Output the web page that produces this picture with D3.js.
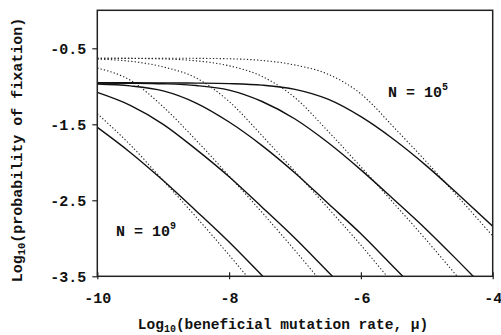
<!DOCTYPE html>
<html>
<head>
<meta charset="utf-8">
<script src="https://cdn.jsdelivr.net/npm/d3@7"></script>
<style>
  body { margin: 0; background: #fff; }
  svg text { font-family: "Liberation Mono", "Courier New", monospace; font-weight: bold; fill: #111; }
</style>
</head>
<body>
<svg id="chart" width="501" height="335"></svg>
<script>
// log10 of the beneficial mutation rate at which each curve is sampled
const logMu = [-10, -9.5, -9, -8.5, -8, -7.5, -7, -6.5, -6, -5.5, -5, -4.5, -4];

// log10 probability of fixation, solid curves (null = below the plotted range)
const solidN5 = [-0.953, -0.954, -0.955, -0.958, -0.965, -0.985, -1.04, -1.17, -1.40, -1.70, -2.05, -2.44, -2.84];
const solidN6 = [-0.956, -0.959, -0.967, -0.99, -1.05, -1.20, -1.43, -1.74, -2.10, -2.49, -2.89, -3.32, -3.76];
const solidN7 = [-0.97, -0.995, -1.06, -1.22, -1.47, -1.78, -2.14, -2.54, -2.94, -3.38, -3.82, null, null];
const solidN8 = [-1.08, -1.25, -1.50, -1.83, -2.19, -2.59, -3.00, -3.44, -3.88, null, null, null, null];
const solidN9 = [-1.54, -1.87, -2.24, -2.64, -3.05, -3.49, -3.93, null, null, null, null, null, null];

// dotted curves
const dotN5 = [-0.63, -0.63, -0.63, -0.632, -0.638, -0.66, -0.72, -0.84, -1.10, -1.54, -2.00, -2.48, -2.97];
const dotN6 = [-0.63, -0.633, -0.64, -0.665, -0.73, -0.87, -1.15, -1.59, -2.06, -2.54, -3.03, -3.54, -4.05];
const dotN7 = [-0.642, -0.67, -0.745, -0.89, -1.20, -1.65, -2.12, -2.60, -3.09, -3.61, null, null, null];
const dotN8 = [-0.76, -0.92, -1.27, -1.71, -2.18, -2.66, -3.16, -3.68, null, null, null, null, null];
const dotN9 = [-1.36, -1.77, -2.24, -2.72, -3.22, -3.74, null, null, null, null, null, null, null];

const xTicks = [-10, -8, -6, -4];
const yTicks = [-0.5, -1.5, -2.5, -3.5];

const svg = d3.select("#chart");
const plot = { left: 97.3, right: 492.7, top: 10.3, bottom: 276.3 };

const x = d3.scaleLinear().domain([-10, -4]).range([plot.left, plot.right]);
const y = d3.scaleLinear().domain([-3.5, 0]).range([plot.bottom, plot.top]);

svg.append("defs").append("clipPath").attr("id", "plot-clip")
  .append("rect")
  .attr("x", plot.left).attr("y", plot.top)
  .attr("width", plot.right - plot.left).attr("height", plot.bottom - plot.top);

const line = d3.line()
  .defined(d => d[1] !== null)
  .x(d => x(d[0]))
  .y(d => y(d[1]))
  .curve(d3.curveMonotoneX);

const lines = svg.append("g").attr("clip-path", "url(#plot-clip)");

[dotN5, dotN6, dotN7, dotN8, dotN9].forEach(vals => {
  lines.append("path")
    .attr("d", line(logMu.map((m, i) => [m, vals[i]])))
    .attr("fill", "none")
    .attr("stroke", "#222")
    .attr("stroke-width", 1.1)
    .attr("stroke-dasharray", "1.3,2.1");
});

[solidN5, solidN6, solidN7, solidN8, solidN9].forEach(vals => {
  lines.append("path")
    .attr("d", line(logMu.map((m, i) => [m, vals[i]])))
    .attr("fill", "none")
    .attr("stroke", "#111")
    .attr("stroke-width", 1.4);
});

// frame around the plotting area
svg.append("rect")
  .attr("x", plot.left).attr("y", plot.top)
  .attr("width", plot.right - plot.left).attr("height", plot.bottom - plot.top)
  .attr("fill", "none").attr("stroke", "#222").attr("stroke-width", 1.5);

// y axis
const yAxis = svg.append("g")
  .attr("transform", `translate(${plot.left},0)`)
  .call(d3.axisLeft(y).tickValues(yTicks).tickSizeInner(5).tickSizeOuter(0)
    .tickPadding(6).tickFormat(d => d.toFixed(1)));
yAxis.select(".domain").remove();
yAxis.selectAll(".tick line").attr("stroke", "#222").attr("stroke-width", 1.2);
yAxis.selectAll(".tick text").attr("font-size", 15).attr("font-family", null);

// x axis
const xAxis = svg.append("g")
  .attr("transform", `translate(0,${plot.bottom})`)
  .call(d3.axisBottom(x).tickValues(xTicks).tickSizeInner(3).tickSizeOuter(0)
    .tickFormat(d => String(d)));
xAxis.select(".domain").remove();
xAxis.selectAll(".tick line").attr("y1", -4).attr("y2", 3).attr("stroke", "#222").attr("stroke-width", 1.2);
xAxis.selectAll(".tick text").attr("font-size", 15).attr("font-family", null)
  .attr("y", 27).attr("dy", 0);

// axis titles
const xTitle = svg.append("text")
  .attr("x", 283).attr("y", 329)
  .attr("text-anchor", "middle").attr("font-size", 14.5);
xTitle.append("tspan").text("Log");
xTitle.append("tspan").attr("font-size", 10).attr("dy", 3).text("10");
xTitle.append("tspan").attr("dy", -3).text("(beneficial mutation rate, μ)");

const yTitle = svg.append("text")
  .attr("transform", "translate(22,150) rotate(-90)")
  .attr("text-anchor", "middle").attr("font-size", 15);
yTitle.append("tspan").text("Log");
yTitle.append("tspan").attr("font-size", 10.5).attr("dy", 3).text("10");
yTitle.append("tspan").attr("dy", -3).text("(probability of fixation)");

// population size annotations
const note = (px, py, exp) => {
  const t = svg.append("text").attr("x", px).attr("y", py).attr("font-size", 15);
  t.append("tspan").text("N = 10");
  t.append("tspan").attr("font-size", 10).attr("dy", -7).text(exp);
};
note(388, 97, "5");
note(116, 236, "9");
</script>
</body>
</html>
